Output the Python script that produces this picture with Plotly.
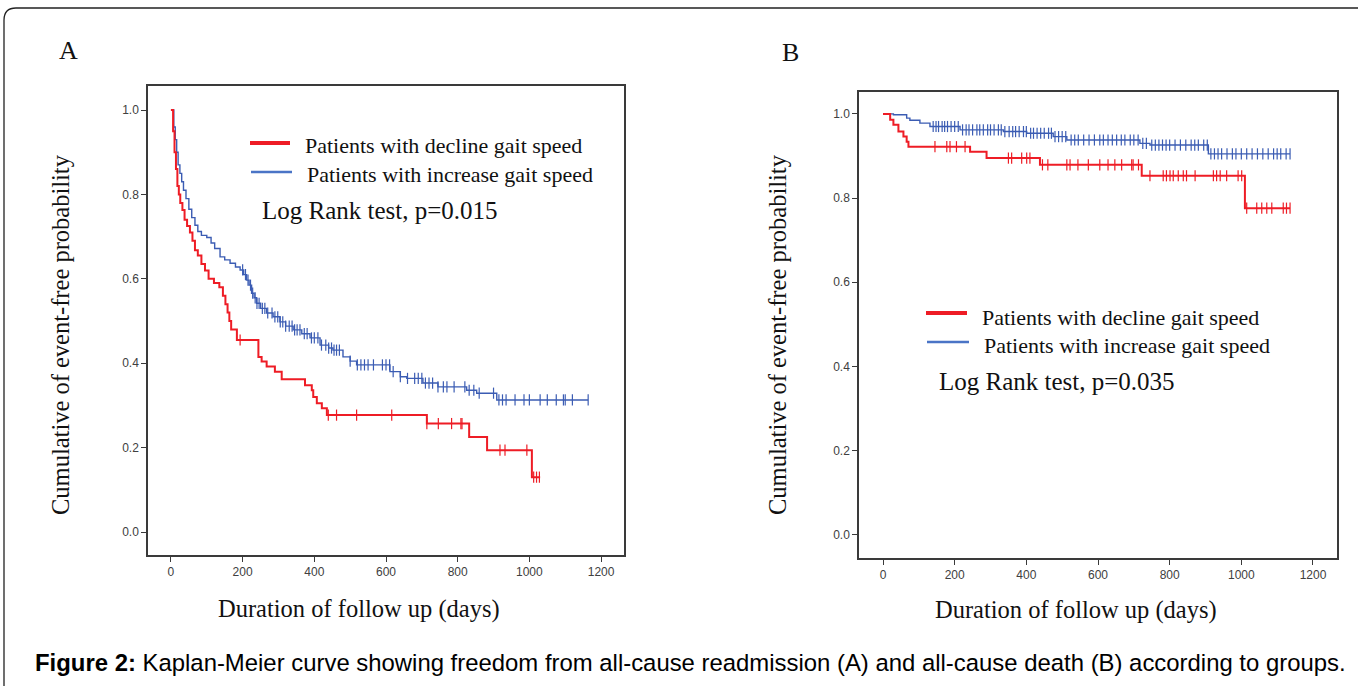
import numpy as np
import plotly.graph_objects as go

# ---------------- data ----------------
# Panel A: all-cause readmission
a_dec_t = [0, 6, 10, 14, 18, 22, 26, 32, 38, 45, 53, 60, 67, 75, 85, 95, 105, 120, 135, 145, 152, 158, 163, 168, 184,
           244, 253, 267, 290, 309, 374, 393, 397, 407, 421, 435, 714, 832, 882, 1007]
a_dec_s = [1.0, 0.95, 0.90, 0.86, 0.82, 0.80, 0.78, 0.763, 0.74, 0.725, 0.71, 0.69, 0.668, 0.655, 0.635, 0.62, 0.60, 0.59,
           0.58, 0.56, 0.54, 0.52, 0.50, 0.48, 0.455, 0.415, 0.404, 0.392, 0.38, 0.362, 0.348, 0.336, 0.32, 0.305, 0.293,
           0.277, 0.257, 0.225, 0.194, 0.13]
a_dec_end = 1030
a_dec_cens = [193, 439, 462, 518, 616, 714, 746, 783, 809, 812, 918, 932, 993, 1012, 1020, 1028]

a_inc_t = [0, 8, 12, 16, 20, 25, 30, 35, 42, 50, 58, 67, 75, 85, 100, 112, 122, 137, 150, 165, 180, 193, 203, 211, 218,
           225, 232, 239, 250, 267, 285, 304, 320, 341, 365, 388, 416, 440, 452, 480, 500, 518, 611, 640, 658, 703, 745,
           825, 853, 909]
a_inc_s = [1.0, 0.96, 0.93, 0.90, 0.87, 0.85, 0.83, 0.81, 0.79, 0.765, 0.745, 0.727, 0.712, 0.703, 0.698, 0.685, 0.672,
           0.652, 0.645, 0.637, 0.628, 0.621, 0.61, 0.597, 0.585, 0.566, 0.555, 0.542, 0.53, 0.519, 0.51, 0.498, 0.488,
           0.479, 0.47, 0.46, 0.443, 0.436, 0.431, 0.415, 0.405, 0.396, 0.38, 0.368, 0.364, 0.353, 0.344, 0.336, 0.329,
           0.313]
a_inc_end = 1164
a_inc_cens = [200, 208, 215, 222, 228, 235, 240, 246, 255, 262, 270, 282, 290, 298, 305, 312, 320, 330, 338, 345, 352,
              360, 372, 380, 392, 400, 410, 420, 432, 440, 448, 455, 462, 470, 500, 520, 530, 540, 550, 565, 590, 600,
              610, 620, 640, 660, 680, 690, 700, 710, 720, 730, 745, 760, 770, 790, 820, 832, 845, 860, 900, 915, 925,
              935, 960, 985, 1000, 1030, 1050, 1075, 1095, 1100, 1120, 1164]

# Panel B: all-cause death
b_dec_t = [0, 20, 29, 43, 57, 66, 71, 243, 289, 438, 722, 1010]
b_dec_s = [1.0, 0.986, 0.974, 0.958, 0.946, 0.934, 0.922, 0.91, 0.895, 0.879, 0.853, 0.776]
b_dec_end = 1136
b_dec_cens = [145, 178, 187, 205, 229, 350, 359, 387, 401, 410, 445, 460, 513, 522, 544, 573, 605, 628, 647, 666, 694,
              698, 713, 745, 782, 791, 801, 810, 824, 838, 847, 871, 922, 931, 941, 959, 991, 1001, 1015, 1043, 1057,
              1071, 1085, 1117, 1126, 1136]

b_inc_t = [0, 29, 66, 75, 103, 131, 215, 336, 401, 475, 513, 717, 745, 908]
b_inc_s = [1.0, 0.998, 0.99, 0.985, 0.978, 0.97, 0.962, 0.958, 0.954, 0.946, 0.938, 0.93, 0.926, 0.905]
b_inc_end = 1136
b_inc_cens = [140, 148, 155, 165, 172, 180, 190, 200, 210, 222, 232, 240, 250, 262, 270, 280, 292, 300, 310, 322, 330,
              340, 352, 362, 370, 380, 392, 400, 412, 420, 430, 440, 450, 462, 470, 480, 490, 500, 510, 525, 535, 545,
              560, 575, 590, 605, 615, 628, 640, 652, 665, 675, 690, 700, 712, 725, 735, 750, 760, 770, 780, 790, 800,
              815, 830, 845, 860, 870, 880, 895, 905, 915, 925, 935, 945, 960, 975, 985, 1000, 1015, 1030, 1045, 1060,
              1075, 1090, 1100, 1110, 1125, 1136]

x_ticks = [0, 200, 400, 600, 800, 1000, 1200]
y_ticks = [0.0, 0.2, 0.4, 0.6, 0.8, 1.0]
label_dec = "Patients with decline gait speed"
label_inc = "Patients with increase gait speed"
p_text_a = "Log Rank test, p=0.015"
p_text_b = "Log Rank test, p=0.035"
y_title = "Cumulative of event-free probability"
x_title = "Duration of follow up (days)"
caption = "<b>Figure 2:</b> Kaplan-Meier curve showing freedom from all-cause readmission (A) and all-cause death (B) according to groups."

RED = "#EE1C25"
BLUE = "#3B5CB3"
BLUE_LEG = "#4A74C6"
W, H = 1358, 686


def surv_at(ts, ss, t):
    idx = np.searchsorted(np.array(ts), t, side="right") - 1
    return ss[max(idx, 0)]


fig = go.Figure()


def add_curve(ts, ss, end, cens, color, width, xa, ya):
    xs = list(ts) + [end]
    ys = list(ss) + [ss[-1]]
    fig.add_trace(go.Scatter(x=xs, y=ys, mode="lines", line=dict(color=color, width=width, shape="hv"),
                             xaxis=xa, yaxis=ya, showlegend=False, hoverinfo="skip"))
    cy = [surv_at(ts, ss, c) for c in cens]
    fig.add_trace(go.Scatter(x=cens, y=cy, mode="markers",
                             marker=dict(symbol="line-ns", size=8, line=dict(color=color, width=1.2)),
                             xaxis=xa, yaxis=ya, showlegend=False, hoverinfo="skip"))


add_curve(a_inc_t, a_inc_s, a_inc_end, a_inc_cens, BLUE, 1.4, "x", "y")
add_curve(a_dec_t, a_dec_s, a_dec_end, a_dec_cens, RED, 2, "x", "y")
add_curve(b_inc_t, b_inc_s, b_inc_end, b_inc_cens, BLUE, 1.4, "x2", "y2")
add_curve(b_dec_t, b_dec_s, b_dec_end, b_dec_cens, RED, 2, "x2", "y2")


def px(x):
    return x / W


def py(y):
    return 1 - y / H


axis_common = dict(showline=True, linecolor="#3a3a3a", linewidth=1.5, mirror=True, ticks="outside", ticklen=5,
                   tickwidth=1.2, tickcolor="#3a3a3a", showgrid=False, zeroline=False,
                   tickfont=dict(family="Liberation Sans, Arial", size=12, color="#404040"))

fig.update_layout(
    width=W, height=H, margin=dict(l=0, r=0, t=0, b=0), paper_bgcolor="white", plot_bgcolor="white",
    xaxis=dict(domain=[px(148), px(624)], range=[-64, 1264], tickvals=x_ticks, anchor="y", **axis_common),
    yaxis=dict(domain=[py(555), py(86)], range=[-0.0545, 1.057], tickvals=y_ticks, tickformat=".1f", anchor="x",
               **axis_common),
    xaxis2=dict(domain=[px(859), px(1337)], range=[-67, 1267], tickvals=x_ticks, anchor="y2", **axis_common),
    yaxis2=dict(domain=[py(558), py(92)], range=[-0.055, 1.052], tickvals=y_ticks, tickformat=".1f", anchor="x2",
                **axis_common),
    showlegend=False,
)

SERIF = "Liberation Serif, Times New Roman, serif"
ann = []


def text(x, y, t, size, xanchor="left", angle=0, family=SERIF, color="#111111"):
    ann.append(dict(x=px(x), y=py(y), xref="paper", yref="paper", text=t, showarrow=False, xanchor=xanchor,
                    yanchor="middle", textangle=angle, font=dict(family=family, size=size, color=color)))


text(68, 50, "A", 26, "center")
text(790, 52, "B", 26, "center")
text(60, 335, y_title, 24.5, "center", -90)
text(777, 335, y_title, 24.5, "center", -90)
text(359, 609, x_title, 24.5, "center")
text(1076, 610, x_title, 24.5, "center")
# legends A
text(303, 145, label_dec, 22)
text(305, 174, label_inc, 22)
text(260, 211, p_text_a, 25)
# legends B
text(980, 317, label_dec, 22)
text(982, 345, label_inc, 22)
text(937, 381, p_text_b, 25)
text(690, 662, caption, 23.9, "center", family="Liberation Sans, Arial", color="#000000")
fig.update_layout(annotations=ann)

shapes = []


def seg(x0, x1, y, color, width):
    shapes.append(dict(type="line", xref="paper", yref="paper", x0=px(x0), x1=px(x1), y0=py(y), y1=py(y),
                       line=dict(color=color, width=width)))


seg(250, 290, 143, RED, 4)
seg(251, 292, 172, BLUE_LEG, 2.5)
seg(926, 967, 313, RED, 4)
seg(927, 969, 342, BLUE_LEG, 2.5)
# rounded outer frame
path = "M {a},{b} L {a},{c} Q {a},{d} {e},{d} L {f},{d}".format(a=px(4), b=py(686), c=py(20), d=py(8), e=px(16),
                                                                 f=px(1358))
shapes.append(dict(type="path", xref="paper", yref="paper", path=path, line=dict(color="#222222", width=1.3)))
fig.update_layout(shapes=shapes)

fig.write_html("out.html", config={"displayModeBar": False},
               post_script="document.body.style.margin='0';document.body.style.overflow='hidden';")
